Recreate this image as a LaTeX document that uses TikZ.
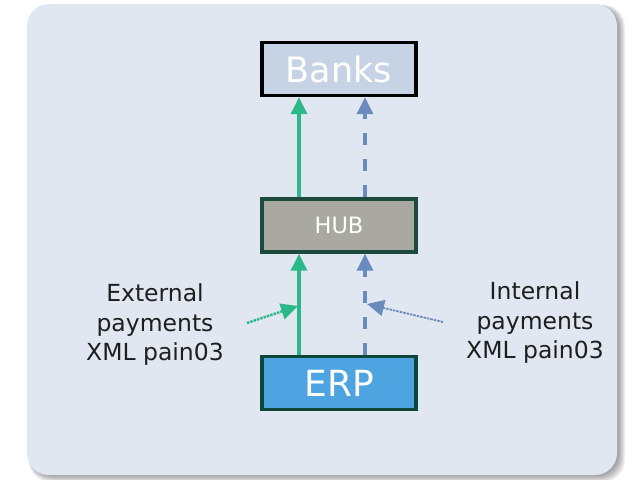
\documentclass[tikz,border=0pt]{standalone}
\usepackage{fontspec}
\setmainfont{DejaVu Sans}
\usetikzlibrary{arrows.meta,calc}

\definecolor{panel}{HTML}{E1E7F1}
\definecolor{bankfill}{HTML}{C5D3E4}
\definecolor{hubfill}{HTML}{A9A9A1}
\definecolor{hubedge}{HTML}{1C4A3C}
\definecolor{erpfill}{HTML}{4EA4E1}
\definecolor{erpedge}{HTML}{0E4637}
\definecolor{flowgreen}{HTML}{2BB98A}
\definecolor{flowblue}{HTML}{6A8BBE}
\definecolor{labeltext}{HTML}{1E1E1E}

\tikzset{
  sysbox/.style={draw, line width=3.4pt, minimum width=154pt, minimum height=53pt,
    inner sep=0pt, text=white},
  extflow/.style={draw=flowgreen, line width=3.4pt,
    -{Triangle[length=17pt,width=16pt]}},
  intflow/.style={draw=flowblue, line width=3.4pt, dash pattern=on 12pt off 14pt,
    -{Triangle[length=17pt,width=16pt]}},
  extfeed/.style={draw=flowgreen, line width=2.4pt, dash pattern=on 2.5pt off 1pt,
    -{Triangle[length=17pt,width=16pt]}},
  intfeed/.style={draw=flowblue, line width=1.8pt, dash pattern=on 2.5pt off 1pt,
    -{Triangle[length=17pt,width=16pt]}},
  flowlabel/.style={align=center, text=labeltext,
    font=\fontsize{23.5pt}{29.5pt}\selectfont, inner sep=0pt}
}

\begin{document}
\begin{tikzpicture}[x=1pt, y=-1pt]
  \useasboundingbox (0,0) rectangle (631,479);

  % panel with a soft drop shadow towards the lower right
  \foreach \d in {0,1,...,6}{
    \fill[black, opacity=0.06, rounded corners=22pt]
      (31-0.4*\d,7-0.4*\d) rectangle (619+\d,476+\d);
  }
  \fill[panel, rounded corners=22pt] (27,4) rectangle (617,475);

  % systems
  \node[sysbox, draw=black, fill=bankfill, font=\fontsize{35pt}{40pt}\selectfont]
    (banks) at (339,69) {Banks};
  \node[sysbox, draw=hubedge, fill=hubfill, font=\fontsize{22.5pt}{26pt}\selectfont]
    (hub) at (339,225.5) {HUB};
  \node[sysbox, draw=erpedge, fill=erpfill, font=\fontsize{36pt}{40pt}\selectfont]
    (erp) at (339,383) {ERP};

  % payment flows
  \draw[extflow] ($(erp.north)+(-40,0)$) -- ($(hub.south)+(-40,0)$);
  \draw[extflow] ($(hub.north)+(-40,0)$) -- ($(banks.south)+(-40,0)$);
  \draw[intflow] ($(erp.north)+(26,0)$) -- ($(hub.south)+(26,0)$);
  \draw[intflow] ($(hub.north)+(26,0)$) -- ($(banks.south)+(26,0)$);

  % labels and their feed arrows
  \node[flowlabel] (extlabel) at (155,325) {External\\payments\\XML pain03};
  \node[flowlabel] (intlabel) at (535,323) {Internal\\payments\\XML pain03};

  \coordinate (extstart) at (247,323);
  \coordinate (extend) at (298,306);
  \coordinate (intstart) at (443,322);
  \coordinate (intend) at (367,304);
  \draw[extfeed] (extstart) -- (extend);
  \draw[intfeed] (intstart) -- (intend);
\end{tikzpicture}
\end{document}
